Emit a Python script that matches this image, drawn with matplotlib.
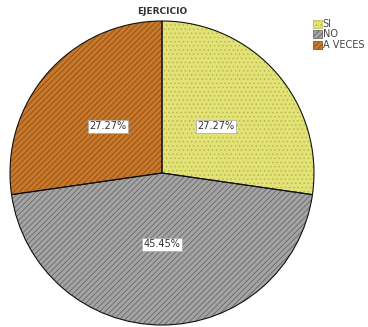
import matplotlib

matplotlib.use('Agg')
import matplotlib.pyplot as plt
from matplotlib.patches import Patch

categories = ['SI', 'NO', 'A VECES']
values = [27.27, 45.45, 27.27]
fills = ['#e2e276', '#a4a4a4', '#c8782a']
hatch_colors = ['#b4b44c', '#5c5c5c', '#804612']
hatches = ['....', '//////', '//////']

plt.rcParams['hatch.linewidth'] = 0.5

fig = plt.figure(figsize=(3.68, 3.27), dpi=100)
ax = fig.add_axes([10 / 368, 2 / 327, 304 / 368, 304 / 327])

wedges, texts, autotexts = ax.pie(values, colors=fills, startangle=90, counterclock=False,
                                  autopct='%1.2f%%', pctdistance=0.47,
                                  wedgeprops=dict(linewidth=0),
                                  textprops=dict(fontsize=7, color='#333333'))
for w, hc, h in zip(wedges, hatch_colors, hatches):
    w.set_edgecolor(hc)
    w.set_hatch(h)

# outlines drawn on top of the hatched fills
ax.pie(values, startangle=90, counterclock=False,
       wedgeprops=dict(fill=False, edgecolor='#111111', linewidth=0.8))

for t in autotexts:
    t.set_bbox(dict(facecolor='white', edgecolor='#aaaaaa', linewidth=0.5, pad=1.2))

ax.set_aspect('equal')
ax.set_xlim(-1.0, 1.0)
ax.set_ylim(-1.0, 1.0)

fig.text(162 / 368, 1 - 12 / 327, 'EJERCICIO', ha='center', va='center',
         fontsize=6.5, fontweight='bold', color='#333333')

handles = [Patch(facecolor=f, edgecolor=hc, hatch=h, linewidth=0.5)
           for f, hc, h in zip(fills, hatch_colors, hatches)]
fig.legend(handles, categories, loc='upper left', bbox_to_anchor=(313 / 368, 1 - 19 / 327),
           frameon=False, fontsize=7, handlelength=0.9, handleheight=0.9,
           handletextpad=0.1, labelspacing=0.05, borderpad=0, borderaxespad=0,
           labelcolor='#444444')

fig.savefig('out.png', dpi=100)
